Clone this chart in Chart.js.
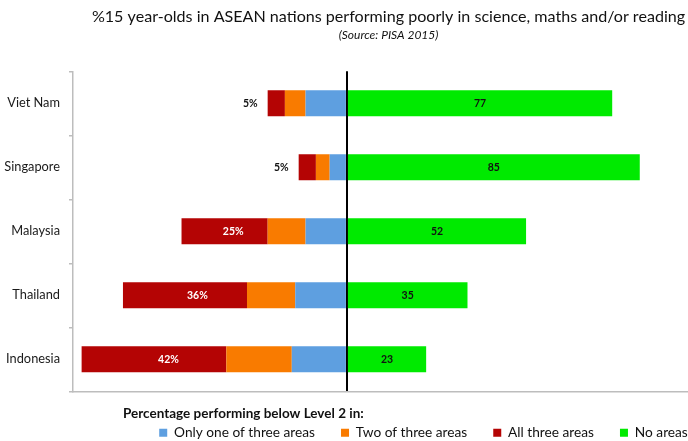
<!DOCTYPE html>
<html>
<head>
<meta charset="utf-8">
<script src="https://cdn.jsdelivr.net/npm/chart.js@4.4.1/dist/chart.umd.min.js"></script>
<style>
html,body{margin:0;padding:0;background:#fff;}
#c{display:block;}
</style>
</head>
<body>
<canvas id="c" width="688" height="441"></canvas>
<script>
// ---- data ----
const categories = ['Viet Nam', 'Singapore', 'Malaysia', 'Thailand', 'Indonesia'];
const seriesNames = ['Only one of three areas', 'Two of three areas', 'All three areas', 'No areas'];
const oneArea  = [12, 5, 12, 15, 16];
const twoAreas = [6, 4, 11, 14, 19];
const allThree = [5, 5, 25, 36, 42];
const noAreas  = [77, 85, 52, 35, 23];
const titleText = '%15 year-olds in ASEAN nations performing poorly in science, maths and/or reading';
const subtitleText = '(Source: PISA 2015)';
const legendHeading = 'Percentage performing below Level 2 in:';

const colors = ['#5e9fe0', '#f97b00', '#b40404', '#00ea00'];
const TITLE_CENTER = 388.5;

Chart.defaults.font.family = 'Lato, "Open Sans", sans-serif';
Chart.defaults.color = '#1a1a1a';

const labelPlugin = {
  id: 'barLabels',
  afterLayout(chart) {
    // centre the title block over the plotting region
    chart.boxes.forEach(b => {
      if (b.options && (b.options.text === titleText || b.options.text === subtitleText)) {
        const shift = TITLE_CENTER - (b.left + b.right) / 2;
        b.left += shift;
        b.right += shift;
      }
    });
  },
  afterDatasetsDraw(chart) {
    const ctx = chart.ctx;
    ctx.save();
    ctx.font = 'bold 10.5px Lato, sans-serif';
    ctx.textBaseline = 'middle';
    const redMeta = chart.getDatasetMeta(2);
    redMeta.data.forEach((el, i) => {
      const left = Math.min(el.x, el.base);
      const right = Math.max(el.x, el.base);
      const w = right - left;
      const txt = allThree[i] + '%';
      if (w > 40) {
        ctx.fillStyle = '#ffffff';
        ctx.textAlign = 'center';
        ctx.fillText(txt, (left + right) / 2 + w * 0.1, el.y);
      } else {
        ctx.fillStyle = '#111111';
        ctx.textAlign = 'right';
        ctx.fillText(txt, left - 10, el.y);
      }
    });
    const greenMeta = chart.getDatasetMeta(3);
    greenMeta.data.forEach((el, i) => {
      ctx.fillStyle = '#111111';
      ctx.textAlign = 'center';
      ctx.fillText(String(noAreas[i]), (el.x + el.base) / 2, el.y);
    });
    ctx.restore();
  },
  afterDraw(chart) {
    const ctx = chart.ctx;
    ctx.save();
    ctx.font = 'bold 13.5px Lato, sans-serif';
    ctx.fillStyle = '#111111';
    ctx.textAlign = 'left';
    ctx.textBaseline = 'middle';
    ctx.fillText(legendHeading, 123, chart.chartArea.bottom + 22);
    ctx.restore();
  }
};

new Chart(document.getElementById('c'), {
  type: 'bar',
  data: {
    labels: categories,
    datasets: [
      { label: seriesNames[0], data: oneArea.map(v => -v), backgroundColor: colors[0] },
      { label: seriesNames[1], data: twoAreas.map(v => -v), backgroundColor: colors[1] },
      { label: seriesNames[2], data: allThree.map(v => -v), backgroundColor: colors[2] },
      { label: seriesNames[3], data: noAreas, backgroundColor: colors[3] }
    ]
  },
  options: {
    indexAxis: 'y',
    responsive: false,
    animation: false,
    devicePixelRatio: 1,
    barPercentage: 0.9,
    categoryPercentage: 0.45,
    layout: { padding: { left: 0, right: -159, top: 0, bottom: -8.5 } },
    scales: {
      x: {
        stacked: true,
        min: -79.5,
        max: 99,
        ticks: { display: false, stepSize: 10 },
        grid: {
          drawTicks: false,
          color: (c) => (c.tick && c.tick.value === 0) ? '#000000' : 'rgba(0,0,0,0)',
          lineWidth: (c) => (c.tick && c.tick.value === 0) ? 2 : 0
        },
        border: { display: true, color: '#bdbdbd', width: 1.5 },
        afterFit(scale) { scale.height = 8.5; }
      },
      y: {
        stacked: true,
        ticks: { font: { size: 12.8 }, color: '#1a1a1a', padding: 9 },
        grid: { drawOnChartArea: false, drawTicks: true, tickLength: 4, color: '#bdbdbd', lineWidth: 1.5, offset: true },
        border: { display: true, color: '#bdbdbd', width: 1.5 },
        afterFit(scale) { scale.width = 73; }
      }
    },
    plugins: {
      title: {
        display: true,
        text: titleText,
        font: { size: 16.1, weight: 'normal' },
        color: '#111111',
        padding: { top: 7.4, bottom: 0 }
      },
      subtitle: {
        display: true,
        text: subtitleText,
        font: { size: 12, style: 'italic' },
        color: '#111111',
        padding: { top: 1.5, bottom: 28.7 }
      },
      legend: {
        display: true,
        position: 'bottom',
        align: 'center',
        labels: {
          boxWidth: 8,
          boxHeight: 8,
          padding: 26,
          font: { size: 13.7 },
          color: '#111111'
        }
      },
      tooltip: { enabled: false }
    }
  },
  plugins: [labelPlugin]
});
</script>
</body>
</html>
